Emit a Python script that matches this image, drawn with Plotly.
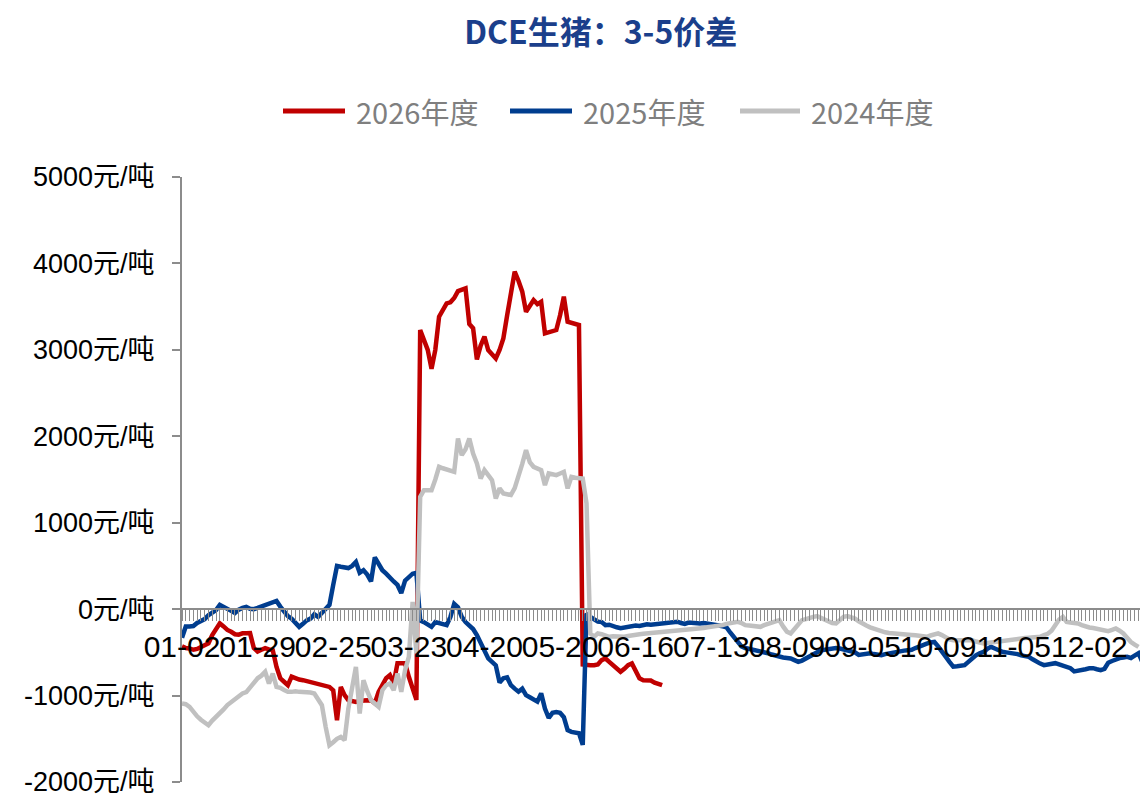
import plotly.graph_objects as go

# ---------------- data ----------------
n_days = 254  # trading-day categories on the x axis
tick_labels = ["01-02", "01-29", "02-25", "03-23", "04-20", "05-20", "06-16",
               "07-13", "08-09", "09-05", "10-09", "11-05", "12-02"]
label_step = 20

series_names = ["2026年度", "2025年度", "2024年度"]

values_2026 = [
    -430, -450, -455, -470, -460, -440, -420, -395, -300, -240,
    -165, -200, -240, -262, -290, -295, -280, -280, -278, -451,
    -490, -470, -451, -465, -474, -668, -800, -840, -880, -780,
    -799, -815, -822, -835, -845, -855, -865, -880, -890, -900,
    -940, -1285, -900, -995, -1053, -1060, -1073, -1060, -1055, -1055,
    -1053, -1088, -957, -880, -800, -764, -856, -625, -625, -625,
    -783, -900, -1050, 3229, 3100, 3000, 2780, 3000, 3383, 3450,
    3538, 3550, 3600, 3680, 3700, 3712, 3300, 3250, 2890, 3050,
    3152, 2998, 2950, 2902, 3000, 3133, 3400, 3650, 3904, 3800,
    3673, 3441, 3500, 3576, 3530, 3557, 3191, 3200, 3210, 3229,
    3400, 3615, 3325, 3310, 3300, 3287, -640, -648, -650, -648,
    -640, -590, -571, -610, -648, -687, -725, -690, -648, -629,
    -725, -800, -822, -822, -825, -850, -872, -880,
]

values_2025 = [
    -330, -200, -200, -195, -160, -135, -115, -70, -35, -10,
    50, 30, 0, -20, -45, -5, 15, 25, 5, 0,
    15, 30, 50, 70, 85, 95, 30, -20, -80, -110,
    -160, -205, -170, -130, -110, -60, -90, -40, 10, 50,
    280, 500, 490, 480, 475, 500, 545, 420, 450, 400,
    320, 600, 520, 450, 410, 360, 320, 280, 185, 330,
    370, 410, 420, -130, -150, -180, -205, -150, -160, -175,
    -185, -90, 60, 20, -90, -150, -190, -230, -300, -390,
    -480, -570, -610, -650, -850, -800, -790, -880, -920, -955,
    -920, -995, -1020, -1040, -1070, -975, -1150, -1260, -1200, -1190,
    -1200, -1250, -1400, -1420, -1425, -1435, -1570, -50, -90, -120,
    -145, -150, -185, -180, -200, -210, -220, -210, -205, -200,
    -190, -195, -185, -175, -180, -175, -165, -170, -160, -155,
    -150, -145, -160, -170, -155, -160, -170, -165, -160, -165,
    -175, -180, -190, -200, -210, -270, -320, -380, -430, -450,
    -460, -470, -475, -480, -500, -510, -525, -540, -552, -560,
    -565, -570, -590, -610, -595, -570, -550, -530, -500, -475,
    -470, -460, -455, -450, -455, -465, -470, -480, -500, -530,
    -520, -515, -510, -520, -525, -532, -520, -510, -500, -494,
    -490, -480, -475, -470, -450, -430, -417, -400, -385, -380,
    -430, -500, -550, -610, -665, -660, -650, -648, -610, -570,
    -535, -510, -495, -460, -436, -455, -475, -494, -500, -505,
    -510, -520, -535, -545, -552, -580, -610, -630, -648, -640,
    -630, -625, -640, -655, -670, -683, -720, -715, -705, -695,
    -685, -683, -695, -705, -690, -620, -600, -580, -567, -560,
    -552, -565, -540, -510, -610,
]

values_2024 = [
    -1092, -1100, -1130, -1190, -1240, -1280, -1320, -1343, -1290, -1250,
    -1200, -1160, -1110, -1073, -1040, -1010, -976, -960, -900, -850,
    -800, -770, -725, -860, -745, -899, -910, -935, -957, -957,
    -950, -957, -957, -957, -965, -976, -1040, -1111, -1362, -1574,
    -1540, -1500, -1478, -1516, -1150, -900, -668, -1207, -822, -950,
    -1053, -1092, -1130, -938, -880, -860, -938, -745, -957, -706,
    -552, 85, -513, 1300, 1377, 1377, 1377, 1500, 1647, 1630,
    1620, 1600, 1589, 1975, 1782, 1850, 1975, 1800, 1686, 1512,
    1608, 1550, 1493, 1281, 1397, 1339, 1330, 1320, 1400, 1531,
    1680, 1840, 1700, 1647, 1630, 1608, 1435, 1570, 1560, 1551,
    1570, 1589, 1397, 1531, 1520, 1515, 1512, 1223, -281, -320,
    -281, -290, -310, -320, -315, -320, -320, -320, -310, -300,
    -295, -290, -285, -281, -285, -280, -274, -270, -262, -255,
    -251, -250, -245, -240, -238, -235, -230, -225, -218, -210,
    -205, -200, -192, -185, -170, -158, -150, -147, -160, -185,
    -190, -195, -200, -205, -185, -170, -150, -135, -127, -200,
    -260, -281, -224, -170, -127, -115, -108, -90, -81, -100,
    -125, -147, -160, -166, -120, -89, -80, -90, -110, -140,
    -170, -190, -210, -224, -240, -262, -268, -275, -281, -285,
    -290, -290, -295, -298, -301, -310, -315, -320, -305, -290,
    -281, -300, -330, -350, -359, -359, -359, -359, -359, -360,
    -375, -390, -397, -392, -385, -380, -378, -372, -365, -359,
    -350, -342, -339, -335, -330, -325, -322, -320, -300, -285,
    -250, -180, -120, -89, -147, -155, -160, -166, -185, -205,
    -212, -218, -224, -235, -243, -255, -240, -224, -250, -281,
    -330, -380, -410, -436,
]

y_ticks = [-2000, -1000, 0, 1000, 2000, 3000, 4000, 5000]
y_unit = "元/吨"

# ---------------- styling ----------------
colors = ["#C00000", "#003D8F", "#C0C0C0"]
all_values = [values_2026, values_2025, values_2024]

W, H = 1140, 797
plot_left, plot_right, plot_top, plot_bottom = 182, 1140, 177, 782


def px_x(p):
    return (p - plot_left) / (plot_right - plot_left)


def px_y(p):
    return (plot_bottom - p) / (plot_bottom - plot_top)


fig = go.Figure()
for name, vals, col in zip(series_names, all_values, colors):
    fig.add_trace(go.Scatter(
        x=list(range(len(vals))), y=vals, mode="lines", name=name,
        line=dict(color=col, width=4.5), hoverinfo="skip", showlegend=False,
    ))

# legend drawn as line samples + real text labels
legend_line_px = [(283, 345), (510, 572), (740, 800)]
legend_y_px = 111
shapes, annotations = [], []
for name, col, (x0, x1) in zip(series_names, colors, legend_line_px):
    shapes.append(dict(type="line", xref="paper", yref="paper",
                       x0=px_x(x0), x1=px_x(x1), y0=px_y(legend_y_px), y1=px_y(legend_y_px),
                       line=dict(color=col, width=5)))
    annotations.append(dict(text=name, xref="paper", yref="paper",
                            x=px_x(x1 + 9), y=px_y(legend_y_px), xanchor="left", yanchor="middle",
                            showarrow=False,
                            font=dict(family="Liberation Sans Narrow, Noto Sans CJK SC, sans-serif",
                                      size=29, color="#7F7F7F")))

x_tickvals = list(range(n_days))
x_ticktext = [tick_labels[i // label_step] if i % label_step == 0 and i // label_step < len(tick_labels) else ""
              for i in x_tickvals]

y_min, y_max = y_ticks[0], y_ticks[-1]
zero_pos = (0 - y_min) / (y_max - y_min)

fig.update_layout(
    width=W, height=H,
    paper_bgcolor="white", plot_bgcolor="white",
    margin=dict(l=plot_left, r=W - plot_right, t=plot_top, b=H - plot_bottom),
    title=dict(text="<b>DCE生猪：3-5价差</b>", x=0.527, xanchor="center",
               y=1 - 33 / H, yanchor="middle", yref="container",
               font=dict(family="Noto Sans CJK SC, sans-serif", size=32, color="#1B3F8B")),
    showlegend=False,
    shapes=shapes, annotations=annotations,
    xaxis=dict(
        range=[0, 253.4], anchor="free", position=zero_pos,
        tickmode="array", tickvals=x_tickvals, ticktext=x_ticktext,
        ticks="outside", ticklen=11, tickwidth=1, tickcolor="#8C8C8C",
        showline=True, linecolor="#8C8C8C", linewidth=2,
        showgrid=False, zeroline=False, tickangle=0,
        tickfont=dict(family="Liberation Sans, Arial, sans-serif", size=30, color="black"),
    ),
    yaxis=dict(
        range=[y_min, y_max], tickmode="array", tickvals=y_ticks,
        ticktext=[f"{v}{y_unit}" for v in y_ticks],
        ticks="outside", ticklen=8, tickwidth=1.5, tickcolor="#8C8C8C",
        showline=True, linecolor="#8C8C8C", linewidth=2,
        showgrid=False, zeroline=False, ticklabelstandoff=12,
        ticklabeloverflow="allow",
        tickfont=dict(family="Liberation Sans, Noto Sans CJK SC, sans-serif", size=27, color="black"),
    ),
)

fig.write_html("out.html")
